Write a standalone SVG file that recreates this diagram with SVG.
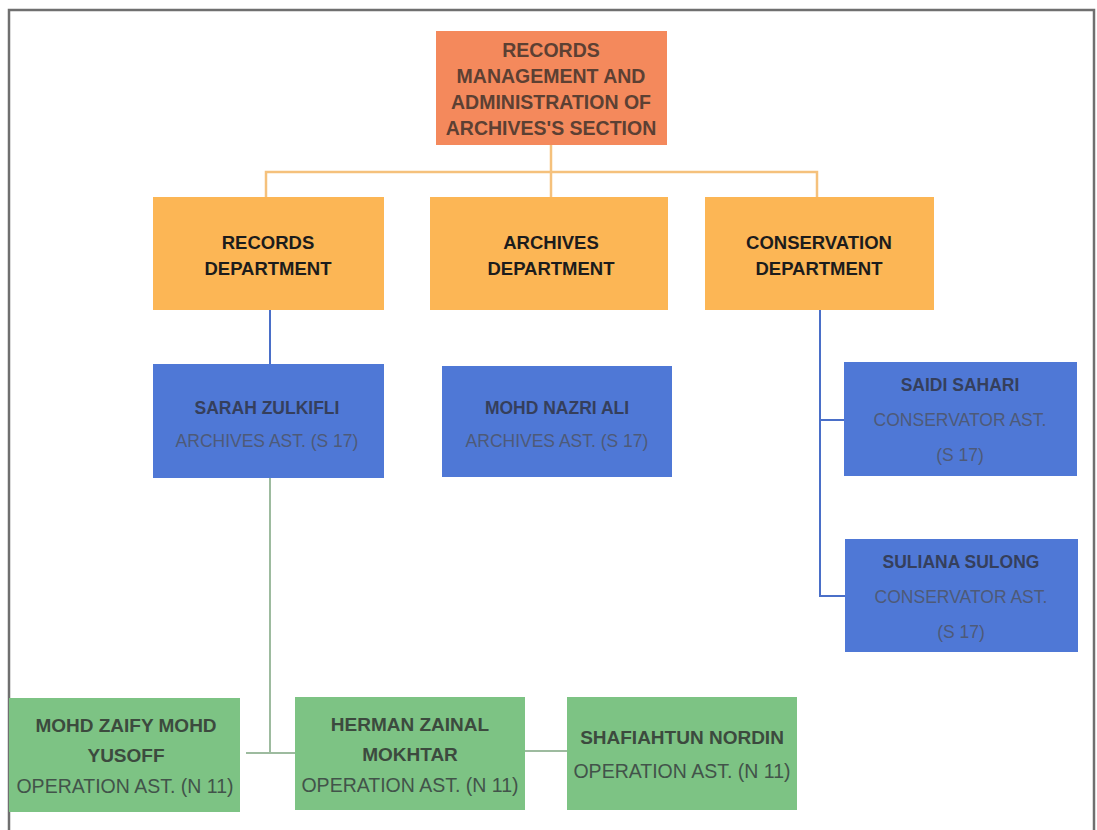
<svg xmlns="http://www.w3.org/2000/svg" width="1097" height="830" viewBox="0 0 1097 830">
  <style>
    .frame { fill: none; stroke: #6f6f6f; stroke-width: 2.5; }
    .top { fill: #F4895C; }
    .dept { fill: #FCB655; }
    .staff { fill: #4F78D6; }
    .ops { fill: #7DC384; }
    text { font-family: "Liberation Sans", Arial, sans-serif; text-anchor: middle; }
    .t-top { font-size: 19.5px; font-weight: bold; fill: #5C4033; }
    .t-dept { font-size: 18.5px; font-weight: bold; fill: #1c1c1c; }
    .t-name { font-size: 17.5px; font-weight: bold; fill: #353f5c; }
    .t-role { font-size: 17.5px; fill: #4e5a78; }
    .t-oname { font-size: 19px; font-weight: bold; fill: #3c4a3e; }
    .t-orole { font-size: 19.5px; fill: #42534a; }
    .c-orange { stroke: #F5C17C; stroke-width: 2.5; fill: none; }
    .c-blue { stroke: #4A6FC8; stroke-width: 2; fill: none; }
    .c-green { stroke: #9DBB9F; stroke-width: 2; fill: none; }
  </style>

  <rect width="1097" height="830" fill="#ffffff"/>
  <!-- outer frame, open at the bottom -->
  <path class="frame" d="M9,832 V10 H1094 V832"/>

  <g id="connectors">
    <!-- section to departments -->
    <path class="c-orange" d="M551,145 V197 M266,197 V172 H817 V197"/>
    <!-- records department to staff -->
    <path class="c-blue" d="M270,310 V364"/>
    <!-- conservation department to staff -->
    <path class="c-blue" d="M820,310 V596 H845 M820,420 H844"/>
    <!-- records assistant to operation staff -->
    <path class="c-green" d="M270,478 V753 H246 M270,753 H295"/>
    <path class="c-green" d="M525,751 H567"/>
  </g>

  <g id="section">
    <rect class="top" x="436" y="31" width="231" height="114"/>
    <text class="t-top" x="551" y="57">RECORDS</text>
    <text class="t-top" x="551" y="83">MANAGEMENT AND</text>
    <text class="t-top" x="551" y="109">ADMINISTRATION OF</text>
    <text class="t-top" x="551" y="135">ARCHIVES'S SECTION</text>
  </g>

  <g id="records-dept">
    <rect class="dept" x="153" y="197" width="231" height="113"/>
    <text class="t-dept" x="268" y="249">RECORDS</text>
    <text class="t-dept" x="268" y="275">DEPARTMENT</text>
  </g>
  <g id="archives-dept">
    <rect class="dept" x="430" y="197" width="238" height="113"/>
    <text class="t-dept" x="551" y="249">ARCHIVES</text>
    <text class="t-dept" x="551" y="275">DEPARTMENT</text>
  </g>
  <g id="conservation-dept">
    <rect class="dept" x="705" y="197" width="229" height="113"/>
    <text class="t-dept" x="819" y="249">CONSERVATION</text>
    <text class="t-dept" x="819" y="275">DEPARTMENT</text>
  </g>

  <g id="sarah">
    <rect class="staff" x="153" y="364" width="231" height="114"/>
    <text class="t-name" x="267" y="414">SARAH ZULKIFLI</text>
    <text class="t-role" x="267" y="447">ARCHIVES AST. (S 17)</text>
  </g>
  <g id="nazri">
    <rect class="staff" x="442" y="366" width="230" height="111"/>
    <text class="t-name" x="557" y="414">MOHD NAZRI ALI</text>
    <text class="t-role" x="557" y="447">ARCHIVES AST. (S 17)</text>
  </g>
  <g id="saidi">
    <rect class="staff" x="844" y="362" width="233" height="114"/>
    <text class="t-name" x="960" y="391">SAIDI SAHARI</text>
    <text class="t-role" x="960" y="426">CONSERVATOR AST.</text>
    <text class="t-role" x="960" y="461">(S 17)</text>
  </g>
  <g id="suliana">
    <rect class="staff" x="845" y="539" width="233" height="113"/>
    <text class="t-name" x="961" y="568">SULIANA SULONG</text>
    <text class="t-role" x="961" y="603">CONSERVATOR AST.</text>
    <text class="t-role" x="961" y="638">(S 17)</text>
  </g>

  <g id="zaify">
    <rect class="ops" x="9" y="698" width="231" height="114"/>
    <text class="t-oname" x="126" y="732">MOHD ZAIFY MOHD</text>
    <text class="t-oname" x="126" y="762">YUSOFF</text>
    <text class="t-orole" x="125" y="793">OPERATION AST. (N 11)</text>
  </g>
  <g id="herman">
    <rect class="ops" x="295" y="697" width="230" height="113"/>
    <text class="t-oname" x="410" y="731">HERMAN ZAINAL</text>
    <text class="t-oname" x="410" y="761">MOKHTAR</text>
    <text class="t-orole" x="410" y="792">OPERATION AST. (N 11)</text>
  </g>
  <g id="shafiahtun">
    <rect class="ops" x="567" y="697" width="230" height="113"/>
    <text class="t-oname" x="682" y="744">SHAFIAHTUN NORDIN</text>
    <text class="t-orole" x="682" y="778">OPERATION AST. (N 11)</text>
  </g>
</svg>
